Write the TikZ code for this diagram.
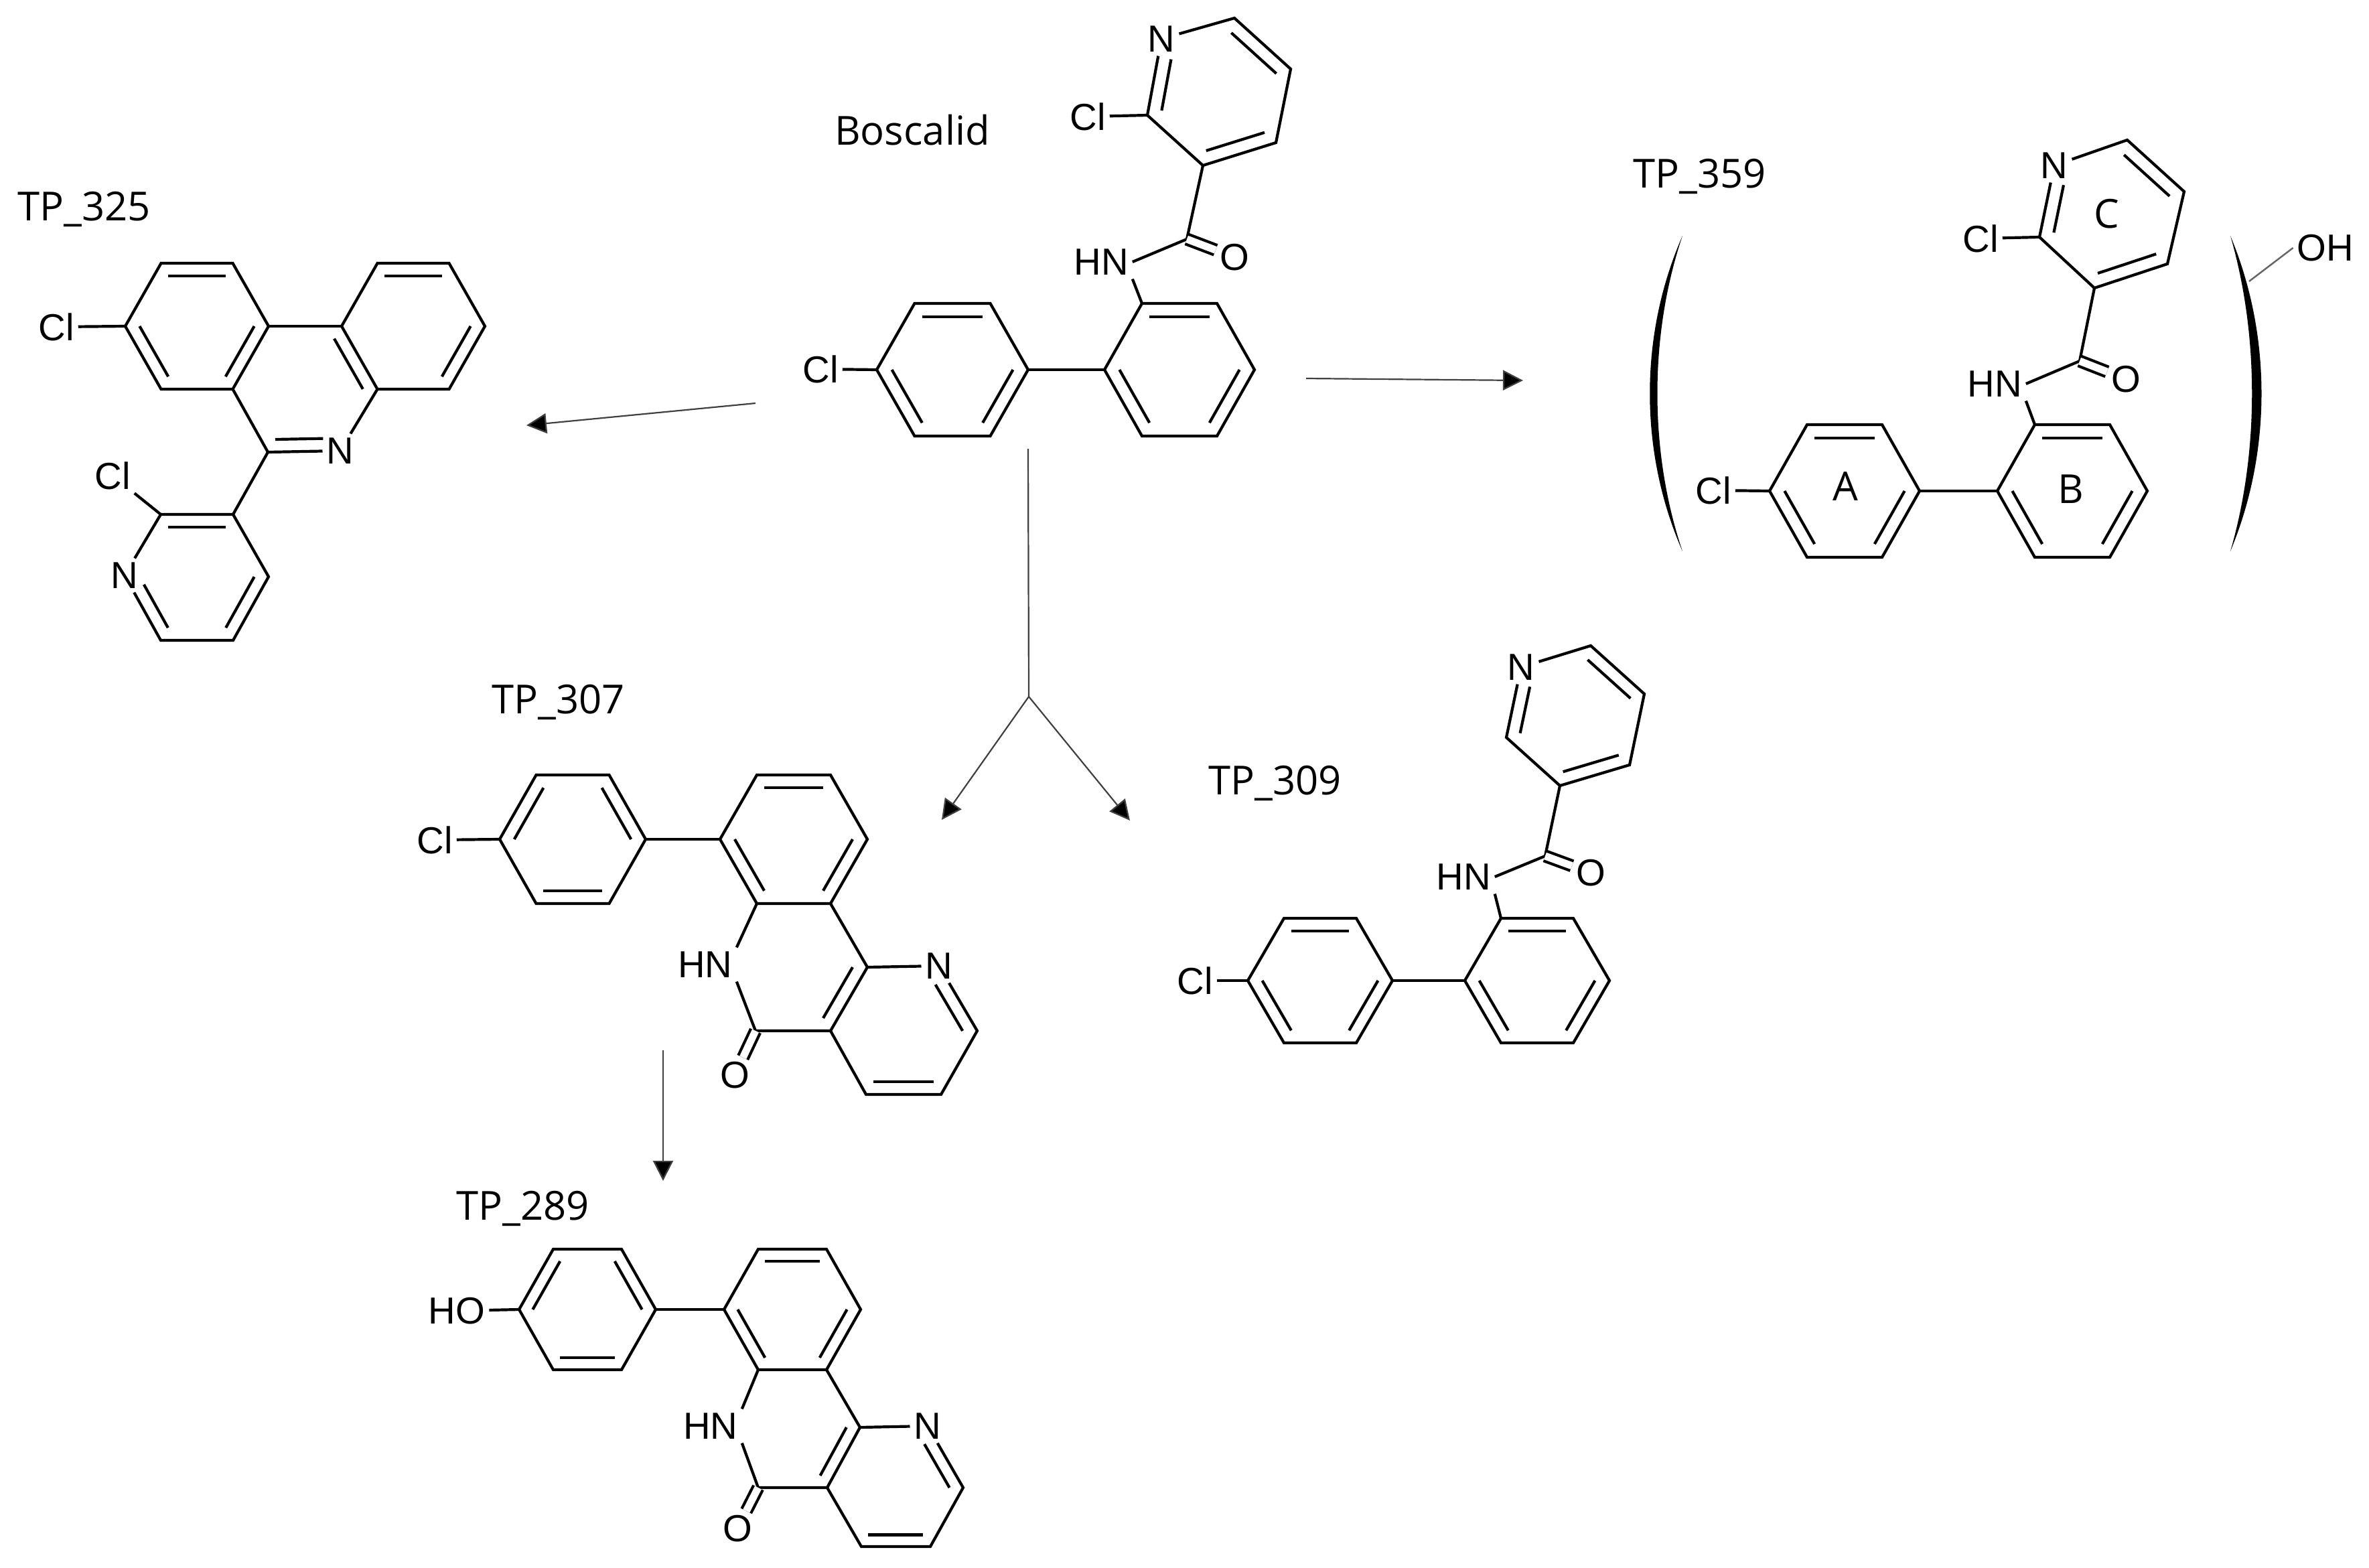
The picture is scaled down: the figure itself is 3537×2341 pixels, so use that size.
\documentclass[tikz,border=0pt]{standalone}
\usepackage{fontspec}
\newfontfamily\atomfont{Liberation Sans}
\newfontfamily\tagfont{Open Sans}
\usetikzlibrary{calc,arrows.meta}
\begin{document}
\begin{tikzpicture}[x=0.1mm,y=-0.1mm,
bond/.style={line width=.42mm,line join=miter},
dblbond/.style={bond,double,double distance=1.1mm},
atom/.style={font=\atomfont\fontsize{16}{19}\selectfont,inner sep=.55mm},
tag/.style={font=\tagfont\fontsize{17}{20}\selectfont,inner sep=0pt,anchor=base},
reaction/.style={line width=.22mm,draw=black!75,-{Triangle[length=3mm,width=3mm,fill=black]}},
stem/.style={line width=.22mm,draw=black!75}]
\useasboundingbox (0,0) rectangle (3537,2341);
\foreach \nm/\cx/\cy/\rx/\ry in {bosA/1422/552/113/99,bosB/1761/552/112/99,hyA/2754/733/112/99,hyB/3094/733/112/99,clA/294/487/107/94,clB/617/487/107/94,tpA/855/1253/109/96,tpB/1185/1253/110/96,ohA/877/1955/102/90,ohB/1183/1955/102/90,deA/1971/1464/108/93,deB/2295/1464/108/93}{
\coordinate (\nm c) at (\cx,\cy);
\coordinate (\nm1) at (\cx-\rx,\cy);
\coordinate (\nm2) at (\cx-\rx/2,\cy-\ry);
\coordinate (\nm3) at (\cx+\rx/2,\cy-\ry);
\coordinate (\nm4) at (\cx+\rx,\cy);
\coordinate (\nm5) at (\cx+\rx/2,\cy+\ry);
\coordinate (\nm6) at (\cx-\rx/2,\cy+\ry);
\draw[bond] (\nm1)--(\nm2)--(\nm3)--(\nm4)--(\nm5)--(\nm6)--cycle;
}
\foreach \nm in {bosA,bosB,hyA,hyB,clA,deA,deB,tpB,ohB}{
\foreach \p/\q in {2/3,1/6,4/5}
\draw[bond] ($(\nm c)!.8!(\nm\p)$)--($(\nm c)!.8!(\nm\q)$);
}
\foreach \nm in {tpA,ohA}{
\foreach \p/\q in {1/2,3/4,5/6}
\draw[bond] ($(\nm c)!.8!(\nm\p)$)--($(\nm c)!.8!(\nm\q)$);
}
\foreach \p/\q in {2/3,4/5}
\draw[bond] ($(clBc)!.8!(clB\p)$)--($(clBc)!.8!(clB\q)$);

\node[atom] (bosN) at (1734,58) {N};
\node[atom] (bosCl2) at (1624,174) {Cl};
\node[atom] (bosO) at (1843,384) {O};
\node[atom] (bosNH) at (1644,391) {HN};
\node[atom] (bosCl) at (1225,551) {Cl};
\coordinate (bosC2) at (1713,172);
\coordinate (bosC3) at (1796,247);
\coordinate (bosC4) at (1905,213);
\coordinate (bosC5) at (1927,103);
\coordinate (bosC6) at (1843,27);
\coordinate (bosPc) at (1820,137);
\coordinate (bosCO) at (1772,357);
\node[atom] (hyN) at (3067,247) {N};
\node[atom] (hyCl2) at (2957,356) {Cl};
\node[atom] (hyO) at (3174,566) {O};
\node[atom] (hyNH) at (2978,573) {HN};
\node[atom] (hyCl) at (2558,732) {Cl};
\node[atom] (hyOH) at (3472,370) {OH};
\coordinate (hyC2) at (3045,354);
\coordinate (hyC3) at (3127,430);
\coordinate (hyC4) at (3236,394);
\coordinate (hyC5) at (3261,286);
\coordinate (hyC6) at (3176,209);
\coordinate (hyPc) at (3152,320);
\coordinate (hyCO) at (3105,539);
\coordinate (hyBr) at (3358,420);
\node[atom] (deN) at (2271,996) {N};
\node[atom] (deO) at (2375,1303) {O};
\node[atom] (deNH) at (2185,1309) {HN};
\node[atom] (deCl) at (1784,1464) {Cl};
\coordinate (deC2) at (2249,1101);
\coordinate (deC3) at (2329,1173);
\coordinate (deC4) at (2433,1142);
\coordinate (deC5) at (2455,1036);
\coordinate (deC6) at (2375,964);
\coordinate (dePc) at (2352,1069);
\coordinate (deCO) at (2307,1278);
\foreach \nm in {bos,hy,de}{
\draw[bond] (\nm N)--(\nm C6)--(\nm C5)--(\nm C4)--(\nm C3)--(\nm C2)--(\nm N);
\draw[bond,shorten >=1.5mm] ($(\nm Pc)!.8!(\nm C2)$)--($(\nm Pc)!.8!(\nm N)$);
\draw[bond] ($(\nm Pc)!.8!(\nm C3)$)--($(\nm Pc)!.8!(\nm C4)$);
\draw[bond] ($(\nm Pc)!.8!(\nm C5)$)--($(\nm Pc)!.8!(\nm C6)$);
\draw[bond] (\nm C3)--(\nm CO)--(\nm NH.east);
\draw[bond] (\nm B2)--(\nm NH.south east);
\draw[dblbond] (\nm CO)--(\nm O);
\draw[bond] (\nm A1)--(\nm Cl);
\draw[bond] (\nm A4)--(\nm B1);
}
\draw[bond] (bosC2)--(bosCl2);
\draw[bond] (hyC2)--(hyCl2);
\draw[line width=.25mm,draw=black!60] (hyBr)--(hyOH.west);
\node[tag] at (2755,747) {A};
\node[tag] at (3092,751) {B};
\node[tag] at (3145,340) {C};
\fill (2512,352) .. controls (2447,500) and (2447,675) .. (2512,823) .. controls (2462,675) and (2462,500) .. (2512,352);
\fill (3330,352) .. controls (3392,500) and (3392,675) .. (3330,823) .. controls (3373,675) and (3373,500) .. (3330,352);

\node[atom] (clN) at (508,673) {N};
\node[atom] (clCl) at (84,488) {Cl};
\node[atom] (clPN) at (186,859) {N};
\node[atom] (clPCl) at (168,710) {Cl};
\coordinate (clC) at (400,675);
\coordinate (clMc) at (455,580);
\coordinate (clP2) at (240,768);
\coordinate (clP3) at (348,768);
\coordinate (clP4) at (401,861);
\coordinate (clP5) at (348,956);
\coordinate (clP6) at (240,956);
\coordinate (clPc) at (294,862);
\draw[bond] (clA4)--(clB1);
\draw[bond] (clA1)--(clCl);
\draw[bond] (clB6)--(clN)--(clC)--(clA5);
\draw[bond] ($(clMc)!.8!(clB1)$)--($(clMc)!.8!(clB6)$);
\draw[bond,shorten >=1.5mm] ($(clMc)!.8!(clC)$)--($(clMc)!.8!(clN)$);
\draw[bond] (clC)--(clP3);
\draw[bond] (clPN)--(clP2)--(clP3)--(clP4)--(clP5)--(clP6)--(clPN);
\draw[bond] ($(clPc)!.8!(clP2)$)--($(clPc)!.8!(clP3)$);
\draw[bond] ($(clPc)!.8!(clP4)$)--($(clPc)!.8!(clP5)$);
\draw[bond,shorten >=1.5mm] ($(clPc)!.8!(clP6)$)--($(clPc)!.8!(clPN)$);
\draw[bond] (clP2)--(clPCl);

\node[atom] (tpX) at (649,1254) {Cl};
\node[atom] (tpNH) at (1053,1440) {HN};
\node[atom] (tpO) at (1097,1605) {O};
\node[atom] (tpN) at (1402,1442) {N};
\coordinate (tpC1) at (1295,1444);
\coordinate (tpC2) at (1240,1539);
\coordinate (tpCO) at (1128,1539);
\coordinate (tpD3) at (1459,1539);
\coordinate (tpD4) at (1405,1634);
\coordinate (tpD5) at (1293,1634);
\coordinate (tpMc) at (1185,1444);
\coordinate (tpDc) at (1350,1539);
\node[atom] (ohX) at (682,1957) {HO};
\node[atom] (ohNH) at (1061,2129) {HN};
\node[atom] (ohO) at (1101,2282) {O};
\node[atom] (ohN) at (1385,2129) {N};
\coordinate (ohC1) at (1284,2131);
\coordinate (ohC2) at (1235,2221);
\coordinate (ohCO) at (1132,2221);
\coordinate (ohD3) at (1438,2221);
\coordinate (ohD4) at (1389,2309);
\coordinate (ohD5) at (1286,2309);
\coordinate (ohMc) at (1183,2131);
\coordinate (ohDc) at (1336,2221);
\foreach \nm in {tp,oh}{
\draw[bond] (\nm A1)--(\nm X);
\draw[bond] (\nm A4)--(\nm B1);
\draw[bond] (\nm B5)--(\nm C1)--(\nm C2)--(\nm CO)--(\nm NH.south east);
\draw[bond] (\nm B6)--(\nm NH.north east);
\draw[dblbond] (\nm CO)--(\nm O);
\draw[bond] (\nm C1)--(\nm N)--(\nm D3)--(\nm D4)--(\nm D5)--(\nm C2);
\draw[bond] ($(\nm Mc)!.8!(\nm C1)$)--($(\nm Mc)!.8!(\nm C2)$);
\draw[bond,shorten <=1mm] ($(\nm Dc)!.8!(\nm N)$)--($(\nm Dc)!.8!(\nm D3)$);
\draw[bond] ($(\nm Dc)!.8!(\nm D4)$)--($(\nm Dc)!.8!(\nm D5)$);
}

\node[tag] (bosTag) at (1362,216) {Boscalid};
\node[tag] (hyTag) at (2538,280) {TP\_359};
\node[tag] (clTag) at (126,329) {TP\_325};
\node[tag] (tpTag) at (834,1065) {TP\_307};
\node[tag] (deTag) at (1904,1186) {TP\_309};
\node[tag] (ohTag) at (781,1821) {TP\_289};

\coordinate (bosW) at (1128,602);
\coordinate (clE) at (786,635);
\coordinate (bosE) at (1950,565);
\coordinate (hyW) at (2274,568);
\coordinate (bosS) at (1535,670);
\coordinate (fork) at (1536,1040);
\coordinate (tpE) at (1406,1224);
\coordinate (deW) at (1687,1225);
\coordinate (tpS) at (990,1568);
\coordinate (ohS) at (990,1763);
\draw[reaction] (bosW)--(clE);
\draw[reaction] (bosE)--(hyW);
\draw[stem] (bosS)--(fork);
\draw[reaction] (fork)--(tpE);
\draw[reaction] (fork)--(deW);
\draw[reaction] (tpS)--(ohS);
\end{tikzpicture}
\end{document}
